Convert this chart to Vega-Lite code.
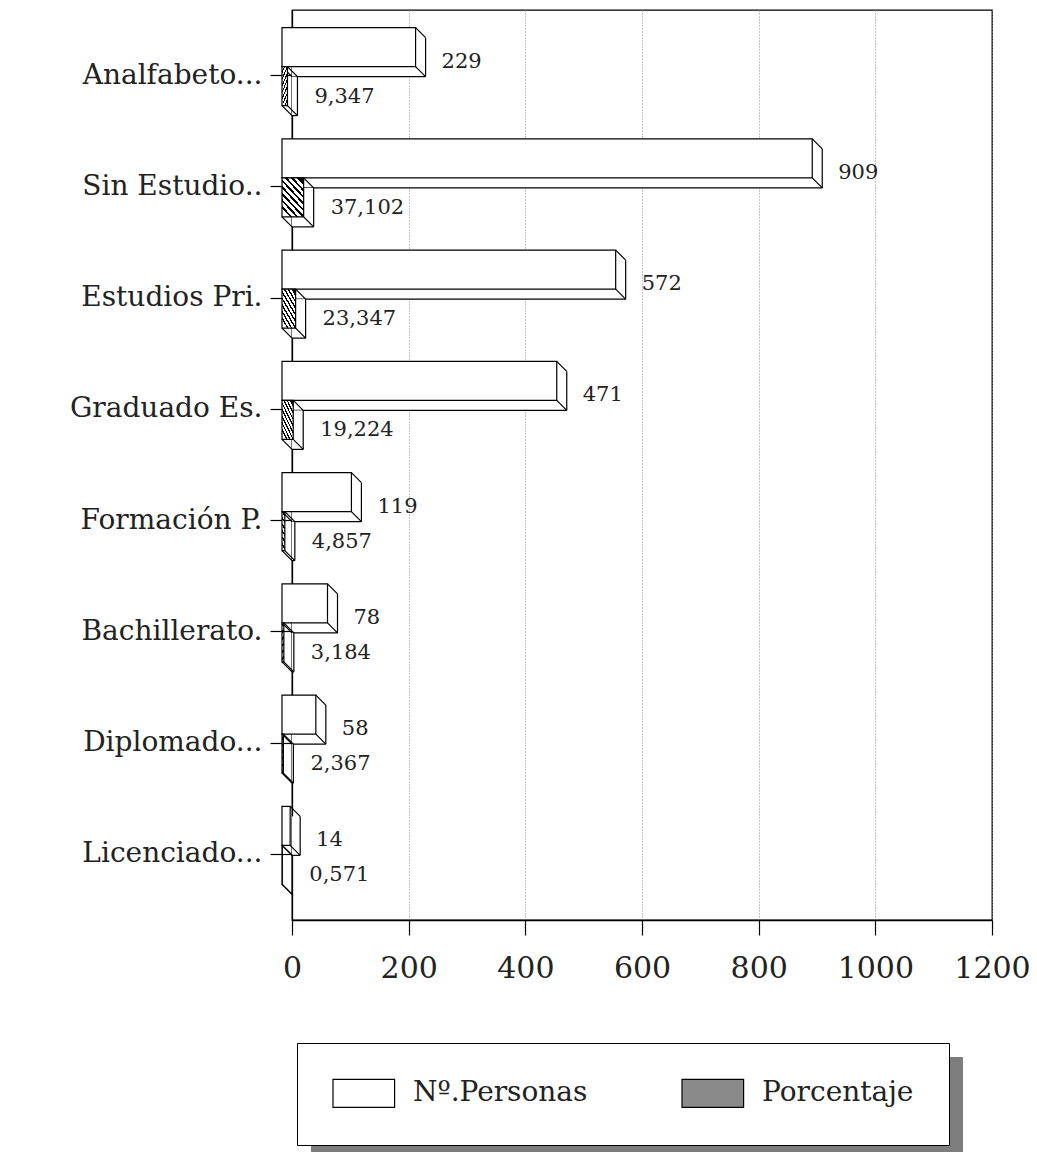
{
  "$schema": "https://vega.github.io/schema/vega-lite/v6.json",
  "width": 700,
  "height": 910,
  "autosize": {"type": "none"},
  "padding": {"left": 292, "top": 10, "right": 45, "bottom": 232},
  "background": "white",
  "config": {
    "view": {"stroke": "black", "strokeWidth": 1.3},
    "font": "DejaVu Serif"
  },
  "data": {
    "values": [
      {"cat": "Analfabeto...", "serie": "Nº.Personas", "value": 229, "label": "229"},
      {"cat": "Analfabeto...", "serie": "Porcentaje", "value": 9.347, "label": "9,347"},
      {"cat": "Sin Estudio..", "serie": "Nº.Personas", "value": 909, "label": "909"},
      {"cat": "Sin Estudio..", "serie": "Porcentaje", "value": 37.102, "label": "37,102"},
      {"cat": "Estudios Pri.", "serie": "Nº.Personas", "value": 572, "label": "572"},
      {"cat": "Estudios Pri.", "serie": "Porcentaje", "value": 23.347, "label": "23,347"},
      {"cat": "Graduado Es.", "serie": "Nº.Personas", "value": 471, "label": "471"},
      {"cat": "Graduado Es.", "serie": "Porcentaje", "value": 19.224, "label": "19,224"},
      {"cat": "Formación P.", "serie": "Nº.Personas", "value": 119, "label": "119"},
      {"cat": "Formación P.", "serie": "Porcentaje", "value": 4.857, "label": "4,857"},
      {"cat": "Bachillerato.", "serie": "Nº.Personas", "value": 78, "label": "78"},
      {"cat": "Bachillerato.", "serie": "Porcentaje", "value": 3.184, "label": "3,184"},
      {"cat": "Diplomado...", "serie": "Nº.Personas", "value": 58, "label": "58"},
      {"cat": "Diplomado...", "serie": "Porcentaje", "value": 2.367, "label": "2,367"},
      {"cat": "Licenciado...", "serie": "Nº.Personas", "value": 14, "label": "14"},
      {"cat": "Licenciado...", "serie": "Porcentaje", "value": 0.571, "label": "0,571"}
    ]
  },
  "encoding": {
    "y": {
      "field": "cat",
      "type": "nominal",
      "sort": null,
      "bandPosition": 0.5,
      "scale": {"paddingInner": 0, "paddingOuter": 0.09},
      "axis": {
        "title": null,
        "domainColor": "black",
        "domainWidth": 1.3,
        "tickColor": "black",
        "tickSize": 22,
        "tickWidth": 1.2,
        "labelFont": "DejaVu Serif",
        "labelFontSize": 28,
        "labelColor": "#222",
        "labelPadding": 8,
        "labelLimit": 0
      }
    },
    "x": {
      "field": "value",
      "type": "quantitative",
      "scale": {"domain": [0, 1200], "nice": false},
      "axis": {
        "title": null,
        "values": [0, 200, 400, 600, 800, 1000, 1200],
        "format": "d",
        "labelOverlap": false,
        "labelFlush": false,
        "grid": true,
        "gridColor": "#888",
        "gridDash": [1, 2],
        "gridWidth": 1,
        "domainColor": "black",
        "domainWidth": 1.3,
        "tickColor": "black",
        "tickSize": 15,
        "tickWidth": 1.2,
        "labelFont": "DejaVu Serif",
        "labelFontSize": 30,
        "labelColor": "#222",
        "labelPadding": 18
      }
    }
  },
  "layer": [
    {
      "transform": [{"filter": "datum.serie === 'Nº.Personas'"}],
      "layer": [
        {"mark": {"type": "bar", "fill": "white", "strokeWidth": 0, "height": 39, "yOffset": -18.5}},
        {"mark": {"type": "rule", "color": "black", "strokeWidth": 1.2, "yOffset": -38, "y2Offset": 1},
         "encoding": {"y2": {"field": "cat", "bandPosition": 0.5}}},
        {"mark": {"type": "rule", "color": "black", "strokeWidth": 1.2, "yOffset": 1},
         "encoding": {"x": {"datum": 0}, "x2": {"field": "value"}}},
        {"mark": {"type": "bar", "stroke": "black", "strokeWidth": 1.2, "height": 39, "yOffset": -28.5, "xOffset": -10, "x2Offset": -10},
         "encoding": {
           "color": {
             "field": "serie",
             "type": "nominal",
             "scale": {"domain": ["Nº.Personas", "Porcentaje"], "range": ["white", "#8a8a8a"]},
             "legend": {
               "title": null,
               "orient": "none",
               "legendX": 5,
               "legendY": 1033,
               "zindex": 2,
               "direction": "horizontal",
               "gridAlign": "all",
               "fillColor": "white",
               "strokeColor": "black",
               "padding": 35,
               "symbolType": "M-1,-1L3.4,-1L3.4,1L-1,1Z",
               "symbolSize": 784,
               "symbolStrokeColor": "black",
               "symbolStrokeWidth": 1.2,
               "labelFont": "DejaVu Serif",
               "labelFontSize": 28,
               "labelColor": "#222",
               "labelOffset": 51,
               "labelLimit": 0,
               "columnPadding": 91
             }
           }
         }},
        {"mark": {"type": "rule", "color": "black", "strokeWidth": 1.2, "xOffset": -10, "x2Offset": 0, "yOffset": -48, "y2Offset": -38},
         "encoding": {"x2": {"field": "value"}, "y2": {"field": "cat", "bandPosition": 0.5}}},
        {"mark": {"type": "rule", "color": "black", "strokeWidth": 1.2, "xOffset": -10, "x2Offset": 0, "yOffset": -9, "y2Offset": 1},
         "encoding": {"x2": {"field": "value"}, "y2": {"field": "cat", "bandPosition": 0.5}}},
        {"mark": {"type": "rule", "color": "black", "strokeWidth": 1.2, "xOffset": -10, "x2Offset": 0, "yOffset": -9, "y2Offset": 1},
         "encoding": {"x": {"datum": 0}, "x2": {"datum": 0}, "y2": {"field": "cat", "bandPosition": 0.5}}},
        {"mark": {"type": "text", "align": "left", "baseline": "middle", "dx": 16, "yOffset": -14, "font": "DejaVu Serif", "fontSize": 21, "fill": "#222"},
         "encoding": {"text": {"field": "label"}}}
      ]
    },
    {
      "transform": [{"filter": "datum.serie === 'Porcentaje'"}],
      "layer": [
        {"mark": {"type": "bar", "fill": "white", "strokeWidth": 0, "height": 39, "yOffset": 20.5}},
        {"mark": {"type": "rule", "color": "black", "strokeWidth": 1.2, "yOffset": 1, "y2Offset": 40},
         "encoding": {"y2": {"field": "cat", "bandPosition": 0.5}}},
        {"mark": {"type": "rule", "color": "black", "strokeWidth": 1.2, "yOffset": 40},
         "encoding": {"x": {"datum": 0}, "x2": {"field": "value"}}},
        {"mark": {"type": "bar", "stroke": "black", "strokeWidth": 1.2, "height": 39, "yOffset": 10.5, "xOffset": -10, "x2Offset": -10,
          "fill": {"gradient": "linear", "x1": 0.2, "y1": 1, "x2": 0.8, "y2": 0, "stops": [
            {"offset": 0, "color": "white"}, {"offset": 0.075, "color": "white"}, {"offset": 0.075, "color": "black"}, {"offset": 0.125, "color": "black"},
            {"offset": 0.125, "color": "white"}, {"offset": 0.2, "color": "white"}, {"offset": 0.2, "color": "black"}, {"offset": 0.25, "color": "black"},
            {"offset": 0.25, "color": "white"}, {"offset": 0.325, "color": "white"}, {"offset": 0.325, "color": "black"}, {"offset": 0.375, "color": "black"},
            {"offset": 0.375, "color": "white"}, {"offset": 0.45, "color": "white"}, {"offset": 0.45, "color": "black"}, {"offset": 0.5, "color": "black"},
            {"offset": 0.5, "color": "white"}, {"offset": 0.575, "color": "white"}, {"offset": 0.575, "color": "black"}, {"offset": 0.625, "color": "black"},
            {"offset": 0.625, "color": "white"}, {"offset": 0.7, "color": "white"}, {"offset": 0.7, "color": "black"}, {"offset": 0.75, "color": "black"},
            {"offset": 0.75, "color": "white"}, {"offset": 0.825, "color": "white"}, {"offset": 0.825, "color": "black"}, {"offset": 0.875, "color": "black"},
            {"offset": 0.875, "color": "white"}, {"offset": 0.95, "color": "white"}, {"offset": 0.95, "color": "black"}, {"offset": 1, "color": "black"}
          ]}}},
        {"mark": {"type": "rule", "color": "black", "strokeWidth": 1.2, "xOffset": -10, "x2Offset": 0, "yOffset": -9, "y2Offset": 1},
         "encoding": {"x2": {"field": "value"}, "y2": {"field": "cat", "bandPosition": 0.5}}},
        {"mark": {"type": "rule", "color": "black", "strokeWidth": 1.2, "xOffset": -10, "x2Offset": 0, "yOffset": 30, "y2Offset": 40},
         "encoding": {"x2": {"field": "value"}, "y2": {"field": "cat", "bandPosition": 0.5}}},
        {"mark": {"type": "rule", "color": "black", "strokeWidth": 1.2, "xOffset": -10, "x2Offset": 0, "yOffset": 30, "y2Offset": 40},
         "encoding": {"x": {"datum": 0}, "x2": {"datum": 0}, "y2": {"field": "cat", "bandPosition": 0.5}}},
        {"mark": {"type": "point", "opacity": 0},
         "encoding": {
           "shape": {
             "field": "serie",
             "type": "nominal",
             "scale": {"domain": ["Nº.Personas\u00a0", "Porcentaje\u00a0"], "range": ["square", "square"]},
             "legend": {
               "title": null,
               "orient": "none",
               "legendX": 19,
               "legendY": 1047,
               "zindex": 0,
               "direction": "horizontal",
               "gridAlign": "all",
               "fillColor": "#7d7d7d",
               "strokeColor": "#7d7d7d",
               "padding": 35,
               "symbolSize": 784,
               "symbolOpacity": 0,
               "labelFont": "DejaVu Serif",
               "labelFontSize": 28,
               "labelOpacity": 0,
               "labelOffset": 215,
               "labelLimit": 0,
               "labelExpr": "''",
               "columnPadding": 91
             }
           }
         }},
        {"mark": {"type": "text", "align": "left", "baseline": "middle", "dx": 17, "yOffset": 21, "font": "DejaVu Serif", "fontSize": 21, "fill": "#222"},
         "encoding": {"text": {"field": "label"}}}
      ]
    }
  ]
}
